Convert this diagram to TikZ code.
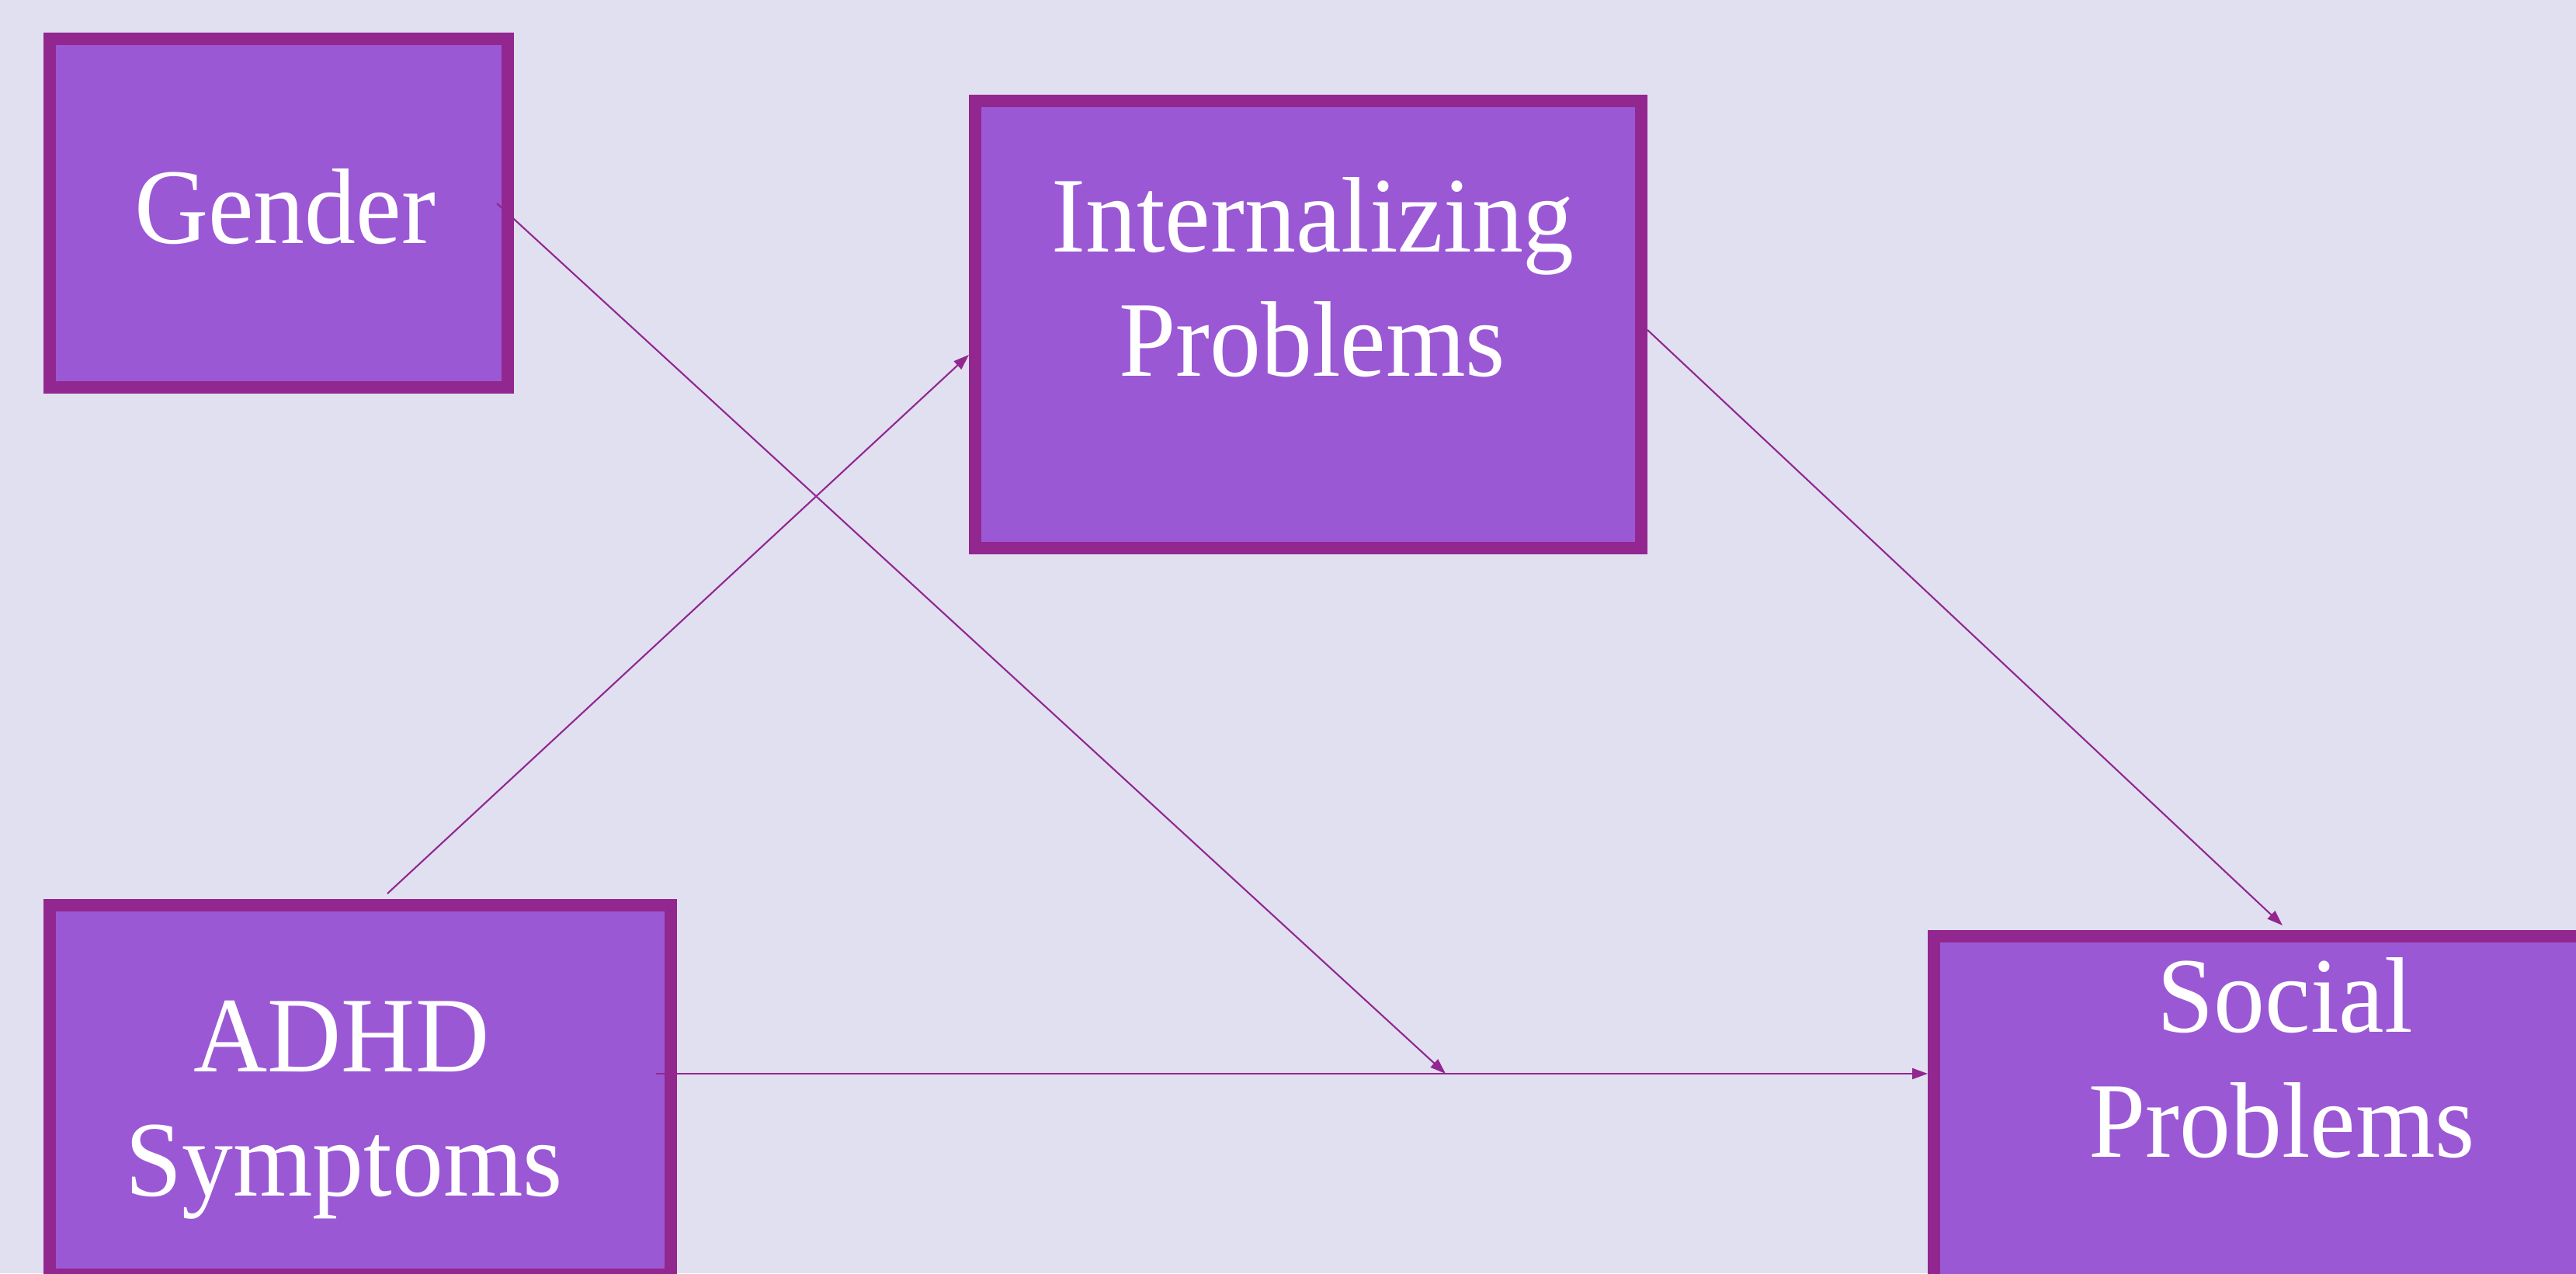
\documentclass[tikz,border=0pt]{standalone}
\usepackage{fontspec}
\setmainfont{Liberation Serif}
\usetikzlibrary{arrows.meta,calc}

\definecolor{bgcol}{RGB}{224,224,241}
\definecolor{boxfill}{RGB}{155,88,212}
\definecolor{boxline}{RGB}{146,39,143}

\tikzset{
  varbox/.style={draw=boxline, fill=boxfill, line width=0.16cm,
    inner sep=0pt, rectangle},
  varlabel/.style={text=white, anchor=base, inner sep=0pt,
    font=\fontsize{37.5}{45}\selectfont, yscale=1.05, transform shape},
  path/.style={draw=boxline, line width=0.6pt,
    -{Triangle[length=0.2cm,width=0.14cm]}}
}

\begin{document}
\begin{tikzpicture}
  \useasboundingbox (0,0) rectangle (33.18,16.4);
  \clip (0,0) rectangle (33.18,16.4);
  \fill[bgcol] (0,0) rectangle (33.18,16.4);

  % variable boxes
  \node[varbox, minimum width=5.90cm, minimum height=4.49cm] (gender) at (3.59,13.655) {};
  \node[varbox, minimum width=8.58cm, minimum height=5.76cm] (intl) at (16.85,12.22) {};
  \node[varbox, minimum width=8.00cm, minimum height=4.76cm] (adhd) at (4.64,2.36) {};
  \node[varbox, minimum width=9.00cm, minimum height=5.86cm] (social) at (29.41,1.41) {};

  % labels
  \node[varlabel] (gender-t) at (3.67,13.26) {Gender};
  \node[varlabel] (intl-t1) at (16.91,13.15) {Internalizing};
  \node[varlabel] (intl-t2) at (16.90,11.55) {Problems};
  \node[varlabel] (adhd-t1) at (4.40,2.59) {ADHD};
  \node[varlabel] (adhd-t2) at (4.43,0.99) {Symptoms};
  \node[varlabel] (social-t1) at (29.43,3.10) {Social};
  \node[varlabel] (social-t2) at (29.39,1.50) {Problems};

  % point on the direct path that the moderator acts upon
  \coordinate (mod) at (18.62,2.57);

  % paths
  \draw[path] ($(adhd.north)+(0.35,0.07)$) -- ($(intl.west)+(0,-0.39)$);
  \draw[path] ($(intl.east)+(0,-0.07)$) -- ($(social.north)+(-0.01,0.06)$);
  \draw[path] ($(adhd.east)+(-0.27,0.21)$) -- ($(social.west)+(0,1.16)$);
  \draw[path] ($(gender.east)+(-0.22,0.125)$) -- (mod);
\end{tikzpicture}
\end{document}
